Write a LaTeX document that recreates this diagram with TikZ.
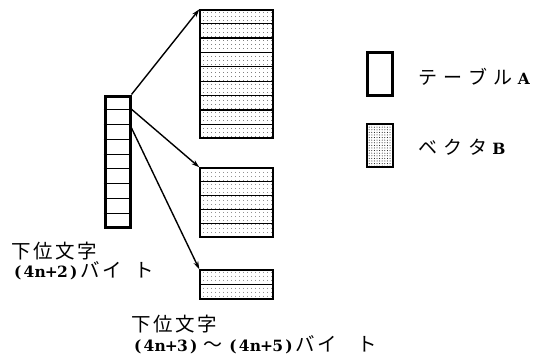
\documentclass[tikz,border=0pt]{standalone}
\usepackage{fontspec}
\setmainfont{DejaVu Serif}
\newfontfamily\jp{Noto Sans CJK JP}
\usetikzlibrary{arrows.meta,patterns.meta,calc}
\newcommand\halfc[1]{\makebox[11.2pt]{\bfseries\fontsize{15.5pt}{18pt}\selectfont #1}}
\newcommand\fullc[1]{\makebox[22pt]{\jp\fontsize{19.5pt}{21pt}\selectfont #1}}
\newcommand\legc[1]{\makebox[25pt][l]{\jp\fontsize{19pt}{21pt}\selectfont #1}}
\tikzset{
  tablebox/.style={draw, line width=3pt, inner sep=0pt, minimum width=25pt},
  vecbox/.style={draw, line width=1.4pt, inner sep=0pt, minimum width=73pt,
    pattern={Dots[distance=4pt, radius=0.45pt]}},
  legvec/.style={draw, line width=1.6pt, inner sep=0pt, minimum width=26pt, minimum height=43pt,
    pattern={Dots[distance=2.6pt, radius=0.5pt]}},
  conn/.style={line width=1.4pt, -{Stealth[length=8pt,width=5pt]}},
  lbl/.style={anchor=west, inner sep=0pt}
}
\begin{document}
\begin{tikzpicture}[x=1pt,y=-1pt]
\useasboundingbox (0,0) rectangle (544,356);
% table A column
\node[tablebox, minimum height=131pt] (ta) at (117.5,161.5) {};
\foreach \i in {1,...,8}
  \draw[line width=0.9pt] ($(ta.north west)!\i/9!(ta.south west)$) -- ($(ta.north east)!\i/9!(ta.south east)$);
% vectors
\node[vecbox, minimum height=128pt] (v1) at (236.5,74) {};
\foreach \i in {1,...,8}
  \draw[line width=1.3pt] ($(v1.north west)!\i/9!(v1.south west)$) -- ($(v1.north east)!\i/9!(v1.south east)$);
\node[vecbox, minimum height=69pt] (v2) at (236.5,202.5) {};
\foreach \i in {1,...,4}
  \draw[line width=1.3pt] ($(v2.north west)!\i/5!(v2.south west)$) -- ($(v2.north east)!\i/5!(v2.south east)$);
\node[vecbox, minimum height=29pt] (v3) at (236.5,284.5) {};
\draw[line width=1.3pt] (v3.west) -- (v3.east);
% connectors
\coordinate (a1) at (ta.north east);
\coordinate (a2) at ($(ta.north east)!0.11!(ta.south east)$);
\coordinate (a3) at ($(ta.north east)!0.25!(ta.south east)$);
\draw[conn] (a1) -- (v1.north west);
\draw[conn] (a2) -- (v2.north west);
\draw[conn] (a3) -- (v3.north west);
% legend
\node[tablebox, minimum width=25pt, minimum height=43pt] (lta) at (379.5,74) {};
\node[legvec] (lvb) at (380,145.5) {};
\node[lbl] (ltxt1) at (418,77) {\legc{テ}\legc{ー}\legc{ブ}\legc{ル}\halfc{A}};
\node[lbl] (ltxt2) at (418,147) {\legc{ベ}\legc{ク}\legc{タ}\halfc{B}};
% labels
\node[lbl] (la1) at (10,251.5) {\fullc{下}\fullc{位}\fullc{文}\fullc{字}};
\node[lbl] (la2) at (12,271) {\halfc{(}\halfc{4}\halfc{n}\halfc{+}\halfc{2}\halfc{)}\fullc{バ}\fullc{イ}\hspace{10pt}\fullc{ト}};
\node[lbl] (lb1) at (130,324.5) {\fullc{下}\fullc{位}\fullc{文}\fullc{字}};
\node[lbl] (lb2) at (132,345) {\halfc{(}\halfc{4}\halfc{n}\halfc{+}\halfc{3}\halfc{)}\makebox[28pt]{\jp\fontsize{19pt}{21pt}\selectfont 〜}\halfc{(}\halfc{4}\halfc{n}\halfc{+}\halfc{5}\halfc{)}\fullc{バ}\fullc{イ}\hspace{18pt}\fullc{ト}};
\end{tikzpicture}
\end{document}
